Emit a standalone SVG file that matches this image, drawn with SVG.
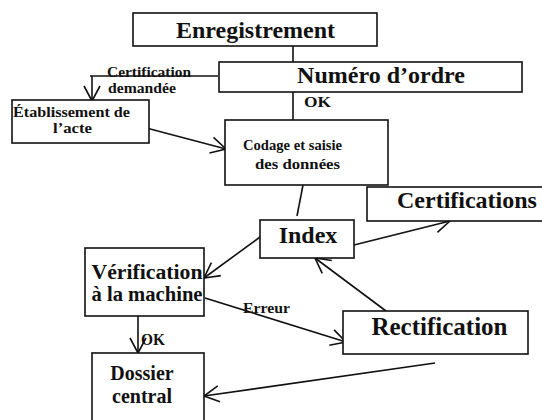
<svg xmlns="http://www.w3.org/2000/svg" width="542" height="420" viewBox="0 0 542 420">
  <style>
    .box { fill: #fff; stroke: #111; stroke-width: 1.6; }
    .link { fill: none; stroke: #111; stroke-width: 1.6; }
  </style>
  <defs>
    <marker id="arr" markerUnits="userSpaceOnUse" markerWidth="24" markerHeight="24" refX="0" refY="0" orient="auto" overflow="visible">
      <path d="M-15,-8 L0,0 L-15,8" fill="none" stroke="#111" stroke-width="1.6"/>
    </marker>
  </defs>
  <rect width="542" height="420" fill="#fff"/>

  <g font-family="Liberation Serif" font-weight="bold" fill="#111">
  <!-- connectors and their labels -->
  <g id="connectors">
    <path class="link" d="M293,46 L293,62"/>
    <path class="link" d="M293,92 L293,120"/>
    <text font-size="15" x="304" y="107" textLength="27" lengthAdjust="spacingAndGlyphs">OK</text>
    <path class="link" d="M218,76 L90,76"/>
    <path class="link" d="M92,76 L92,101" marker-end="url(#arr)"/>
    <text font-size="15" x="107" y="77" textLength="84" lengthAdjust="spacingAndGlyphs">Certification</text>
    <text font-size="15" x="108" y="93" textLength="68" lengthAdjust="spacingAndGlyphs">demandée</text>
    <path class="link" d="M135,125 L226,149" marker-end="url(#arr)"/>
    <path class="link" d="M303,185 L297,216"/>
    <path class="link" d="M354,245 L450,221" marker-end="url(#arr)"/>
    <path class="link" d="M260,237 L204,278" marker-end="url(#arr)"/>
    <path class="link" d="M386,311 L315,258" marker-end="url(#arr)"/>
    <path class="link" d="M205,298 L346,342" marker-end="url(#arr)"/>
    <text font-size="15" x="243" y="313" textLength="47" lengthAdjust="spacingAndGlyphs">Erreur</text>
    <path class="link" d="M138,316 L138,353" marker-end="url(#arr)"/>
    <text font-size="16" x="141" y="345" textLength="24" lengthAdjust="spacingAndGlyphs">OK</text>
    <path class="link" d="M435,363 L204,396" marker-end="url(#arr)"/>
  </g>

  <g id="enregistrement">
    <rect class="box" x="133" y="13" width="244" height="33"/>
    <text font-size="24" x="255.5" y="38" text-anchor="middle">Enregistrement</text>
  </g>

  <g id="numero-ordre">
    <rect class="box" x="219" y="62" width="303" height="30"/>
    <text font-size="24" x="381" y="83" text-anchor="middle">Numéro d’ordre</text>
  </g>

  <g id="etablissement">
    <rect class="box" x="12" y="100" width="137" height="43"/>
    <text font-size="14" x="13" y="117" textLength="117" lengthAdjust="spacingAndGlyphs">Établissement de</text>
    <text font-size="14" x="53" y="133" textLength="39" lengthAdjust="spacingAndGlyphs">l’acte</text>
  </g>

  <g id="codage">
    <rect class="box" x="225" y="120" width="163" height="65"/>
    <text font-size="15" x="243" y="150" textLength="99" lengthAdjust="spacingAndGlyphs">Codage et saisie</text>
    <text font-size="15" x="255" y="169" textLength="85" lengthAdjust="spacingAndGlyphs">des données</text>
  </g>

  <g id="certifications">
    <rect class="box" x="367" y="187" width="190" height="34"/>
    <text font-size="24" x="397" y="208">Certifications</text>
  </g>

  <g id="index">
    <rect class="box" x="260" y="220" width="94" height="38"/>
    <text font-size="24" x="308" y="243" text-anchor="middle">Index</text>
  </g>

  <g id="verification">
    <rect class="box" x="85" y="248" width="119" height="68"/>
    <text font-size="20" x="147" y="279" text-anchor="middle" textLength="111" lengthAdjust="spacingAndGlyphs">Vérification</text>
    <text font-size="20" x="147" y="301" text-anchor="middle" textLength="111" lengthAdjust="spacingAndGlyphs">à la machine</text>
  </g>

  <g id="rectification">
    <rect class="box" x="343" y="311" width="185" height="43"/>
    <text font-size="25" x="439.5" y="335" text-anchor="middle">Rectification</text>
  </g>

  <g id="dossier">
    <rect class="box" x="92" y="353" width="112" height="80"/>
    <text font-size="20" x="142" y="380" text-anchor="middle">Dossier</text>
    <text font-size="20" x="142" y="403" text-anchor="middle">central</text>
  </g>
  </g>
</svg>
